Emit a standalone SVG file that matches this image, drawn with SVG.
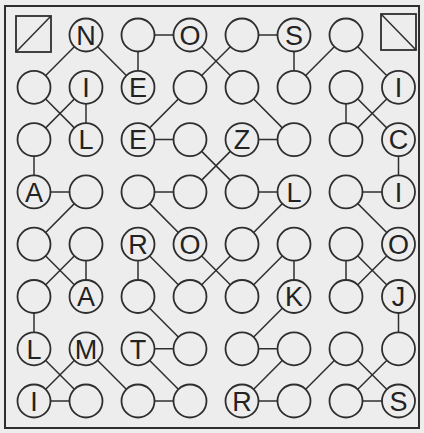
<svg xmlns="http://www.w3.org/2000/svg" width="424" height="433" viewBox="0 0 424 433">
<style>
.bg{fill:#ededed}
.frame{fill:none;stroke:#2e2e2e;stroke-width:2}
.c{fill:#ededed;stroke:#2e2e2e;stroke-width:1.8}
.sq{fill:#ededed;stroke:#2e2e2e;stroke-width:1.8}
.e{stroke:#2e2e2e;stroke-width:1.5}
.t{font-family:"Liberation Sans",Arial,sans-serif;font-size:27px;fill:#222;text-anchor:middle}
</style>
<rect class="bg" x="0" y="0" width="424" height="433"/>
<rect class="frame" x="5" y="6" width="414" height="422"/>
<g id="connectors">
<line class="e" x1="86" y1="35" x2="34" y2="87.3"/>
<line class="e" x1="86" y1="35" x2="138" y2="87.3"/>
<line class="e" x1="138" y1="35" x2="190" y2="35"/>
<line class="e" x1="138" y1="35" x2="138" y2="87.3"/>
<line class="e" x1="190" y1="35" x2="242" y2="87.3"/>
<line class="e" x1="190" y1="87.3" x2="242" y2="35"/>
<line class="e" x1="242" y1="35" x2="294" y2="35"/>
<line class="e" x1="294" y1="35" x2="294" y2="87.3"/>
<line class="e" x1="294" y1="87.3" x2="346" y2="35"/>
<line class="e" x1="346" y1="35" x2="398.5" y2="87.3"/>
<line class="e" x1="346" y1="87.3" x2="346" y2="139.6"/>
<line class="e" x1="346" y1="87.3" x2="398.5" y2="139.6"/>
<line class="e" x1="398.5" y1="87.3" x2="346" y2="139.6"/>
<line class="e" x1="34" y1="87.3" x2="86" y2="139.6"/>
<line class="e" x1="86" y1="87.3" x2="34" y2="139.6"/>
<line class="e" x1="86" y1="87.3" x2="86" y2="139.6"/>
<line class="e" x1="190" y1="87.3" x2="138" y2="139.6"/>
<line class="e" x1="138" y1="139.6" x2="190" y2="139.6"/>
<line class="e" x1="242" y1="87.3" x2="294" y2="139.6"/>
<line class="e" x1="242" y1="139.6" x2="294" y2="139.6"/>
<line class="e" x1="190" y1="139.6" x2="242" y2="191.9"/>
<line class="e" x1="242" y1="139.6" x2="190" y2="191.9"/>
<line class="e" x1="34" y1="139.6" x2="34" y2="191.9"/>
<line class="e" x1="34" y1="191.9" x2="86" y2="191.9"/>
<line class="e" x1="86" y1="191.9" x2="34" y2="244.2"/>
<line class="e" x1="138" y1="191.9" x2="190" y2="191.9"/>
<line class="e" x1="138" y1="191.9" x2="190" y2="244.2"/>
<line class="e" x1="242" y1="191.9" x2="294" y2="191.9"/>
<line class="e" x1="294" y1="191.9" x2="242" y2="244.2"/>
<line class="e" x1="346" y1="191.9" x2="398.5" y2="191.9"/>
<line class="e" x1="398.5" y1="139.6" x2="398.5" y2="191.9"/>
<line class="e" x1="346" y1="191.9" x2="398.5" y2="244.2"/>
<line class="e" x1="346" y1="244.2" x2="346" y2="296.5"/>
<line class="e" x1="346" y1="244.2" x2="398.5" y2="296.5"/>
<line class="e" x1="398.5" y1="244.2" x2="346" y2="296.5"/>
<line class="e" x1="294" y1="244.2" x2="294" y2="296.5"/>
<line class="e" x1="294" y1="244.2" x2="242" y2="296.5"/>
<line class="e" x1="190" y1="244.2" x2="242" y2="296.5"/>
<line class="e" x1="242" y1="244.2" x2="190" y2="296.5"/>
<line class="e" x1="34" y1="244.2" x2="86" y2="296.5"/>
<line class="e" x1="86" y1="244.2" x2="34" y2="296.5"/>
<line class="e" x1="86" y1="244.2" x2="86" y2="296.5"/>
<line class="e" x1="138" y1="244.2" x2="138" y2="296.5"/>
<line class="e" x1="138" y1="244.2" x2="190" y2="296.5"/>
<line class="e" x1="34" y1="296.5" x2="34" y2="348.8"/>
<line class="e" x1="138" y1="296.5" x2="190" y2="348.8"/>
<line class="e" x1="138" y1="348.8" x2="190" y2="348.8"/>
<line class="e" x1="34" y1="348.8" x2="86" y2="401"/>
<line class="e" x1="86" y1="348.8" x2="34" y2="401"/>
<line class="e" x1="34" y1="401" x2="86" y2="401"/>
<line class="e" x1="86" y1="348.8" x2="138" y2="401"/>
<line class="e" x1="138" y1="348.8" x2="190" y2="401"/>
<line class="e" x1="138" y1="401" x2="190" y2="401"/>
<line class="e" x1="294" y1="296.5" x2="242" y2="348.8"/>
<line class="e" x1="242" y1="348.8" x2="294" y2="348.8"/>
<line class="e" x1="294" y1="348.8" x2="242" y2="401"/>
<line class="e" x1="242" y1="401" x2="294" y2="401"/>
<line class="e" x1="294" y1="401" x2="346" y2="348.8"/>
<line class="e" x1="346" y1="348.8" x2="398.5" y2="401"/>
<line class="e" x1="398.5" y1="348.8" x2="346" y2="401"/>
<line class="e" x1="346" y1="401" x2="398.5" y2="401"/>
<line class="e" x1="398.5" y1="296.5" x2="398.5" y2="348.8"/>
</g>
<g id="sq-start"><rect class="sq" x="16" y="16" width="35" height="36"/><line class="e" x1="16" y1="52" x2="51" y2="16"/></g>
<g id="sq-end"><rect class="sq" x="381" y="14" width="35" height="36"/><line class="e" x1="381" y1="14" x2="416" y2="50"/></g>
<g id="n10"><circle class="c" cx="86" cy="35" r="16.5"/><text class="t" x="86" y="44.7">N</text></g>
<g id="n20"><circle class="c" cx="138" cy="35" r="16.5"/></g>
<g id="n30"><circle class="c" cx="190" cy="35" r="16.5"/><text class="t" x="190" y="44.7">O</text></g>
<g id="n40"><circle class="c" cx="242" cy="35" r="16.5"/></g>
<g id="n50"><circle class="c" cx="294" cy="35" r="16.5"/><text class="t" x="294" y="44.7">S</text></g>
<g id="n60"><circle class="c" cx="346" cy="35" r="16.5"/></g>
<g id="n01"><circle class="c" cx="34" cy="87.3" r="16.5"/></g>
<g id="n11"><circle class="c" cx="86" cy="87.3" r="16.5"/><text class="t" x="86" y="97">I</text></g>
<g id="n21"><circle class="c" cx="138" cy="87.3" r="16.5"/><text class="t" x="138" y="97">E</text></g>
<g id="n31"><circle class="c" cx="190" cy="87.3" r="16.5"/></g>
<g id="n41"><circle class="c" cx="242" cy="87.3" r="16.5"/></g>
<g id="n51"><circle class="c" cx="294" cy="87.3" r="16.5"/></g>
<g id="n61"><circle class="c" cx="346" cy="87.3" r="16.5"/></g>
<g id="n71"><circle class="c" cx="398.5" cy="87.3" r="16.5"/><text class="t" x="398.5" y="97">I</text></g>
<g id="n02"><circle class="c" cx="34" cy="139.6" r="16.5"/></g>
<g id="n12"><circle class="c" cx="86" cy="139.6" r="16.5"/><text class="t" x="86" y="149.3">L</text></g>
<g id="n22"><circle class="c" cx="138" cy="139.6" r="16.5"/><text class="t" x="138" y="149.3">E</text></g>
<g id="n32"><circle class="c" cx="190" cy="139.6" r="16.5"/></g>
<g id="n42"><circle class="c" cx="242" cy="139.6" r="16.5"/><text class="t" x="242" y="149.3">Z</text></g>
<g id="n52"><circle class="c" cx="294" cy="139.6" r="16.5"/></g>
<g id="n62"><circle class="c" cx="346" cy="139.6" r="16.5"/></g>
<g id="n72"><circle class="c" cx="398.5" cy="139.6" r="16.5"/><text class="t" x="398.5" y="149.3">C</text></g>
<g id="n03"><circle class="c" cx="34" cy="191.9" r="16.5"/><text class="t" x="34" y="201.6">A</text></g>
<g id="n13"><circle class="c" cx="86" cy="191.9" r="16.5"/></g>
<g id="n23"><circle class="c" cx="138" cy="191.9" r="16.5"/></g>
<g id="n33"><circle class="c" cx="190" cy="191.9" r="16.5"/></g>
<g id="n43"><circle class="c" cx="242" cy="191.9" r="16.5"/></g>
<g id="n53"><circle class="c" cx="294" cy="191.9" r="16.5"/><text class="t" x="294" y="201.6">L</text></g>
<g id="n63"><circle class="c" cx="346" cy="191.9" r="16.5"/></g>
<g id="n73"><circle class="c" cx="398.5" cy="191.9" r="16.5"/><text class="t" x="398.5" y="201.6">I</text></g>
<g id="n04"><circle class="c" cx="34" cy="244.2" r="16.5"/></g>
<g id="n14"><circle class="c" cx="86" cy="244.2" r="16.5"/></g>
<g id="n24"><circle class="c" cx="138" cy="244.2" r="16.5"/><text class="t" x="138" y="253.9">R</text></g>
<g id="n34"><circle class="c" cx="190" cy="244.2" r="16.5"/><text class="t" x="190" y="253.9">O</text></g>
<g id="n44"><circle class="c" cx="242" cy="244.2" r="16.5"/></g>
<g id="n54"><circle class="c" cx="294" cy="244.2" r="16.5"/></g>
<g id="n64"><circle class="c" cx="346" cy="244.2" r="16.5"/></g>
<g id="n74"><circle class="c" cx="398.5" cy="244.2" r="16.5"/><text class="t" x="398.5" y="253.9">O</text></g>
<g id="n05"><circle class="c" cx="34" cy="296.5" r="16.5"/></g>
<g id="n15"><circle class="c" cx="86" cy="296.5" r="16.5"/><text class="t" x="86" y="306.2">A</text></g>
<g id="n25"><circle class="c" cx="138" cy="296.5" r="16.5"/></g>
<g id="n35"><circle class="c" cx="190" cy="296.5" r="16.5"/></g>
<g id="n45"><circle class="c" cx="242" cy="296.5" r="16.5"/></g>
<g id="n55"><circle class="c" cx="294" cy="296.5" r="16.5"/><text class="t" x="294" y="306.2">K</text></g>
<g id="n65"><circle class="c" cx="346" cy="296.5" r="16.5"/></g>
<g id="n75"><circle class="c" cx="398.5" cy="296.5" r="16.5"/><text class="t" x="398.5" y="306.2">J</text></g>
<g id="n06"><circle class="c" cx="34" cy="348.8" r="16.5"/><text class="t" x="34" y="358.5">L</text></g>
<g id="n16"><circle class="c" cx="86" cy="348.8" r="16.5"/><text class="t" x="86" y="358.5">M</text></g>
<g id="n26"><circle class="c" cx="138" cy="348.8" r="16.5"/><text class="t" x="138" y="358.5">T</text></g>
<g id="n36"><circle class="c" cx="190" cy="348.8" r="16.5"/></g>
<g id="n46"><circle class="c" cx="242" cy="348.8" r="16.5"/></g>
<g id="n56"><circle class="c" cx="294" cy="348.8" r="16.5"/></g>
<g id="n66"><circle class="c" cx="346" cy="348.8" r="16.5"/></g>
<g id="n76"><circle class="c" cx="398.5" cy="348.8" r="16.5"/></g>
<g id="n07"><circle class="c" cx="34" cy="401" r="16.5"/><text class="t" x="34" y="410.7">I</text></g>
<g id="n17"><circle class="c" cx="86" cy="401" r="16.5"/></g>
<g id="n27"><circle class="c" cx="138" cy="401" r="16.5"/></g>
<g id="n37"><circle class="c" cx="190" cy="401" r="16.5"/></g>
<g id="n47"><circle class="c" cx="242" cy="401" r="16.5"/><text class="t" x="242" y="410.7">R</text></g>
<g id="n57"><circle class="c" cx="294" cy="401" r="16.5"/></g>
<g id="n67"><circle class="c" cx="346" cy="401" r="16.5"/></g>
<g id="n77"><circle class="c" cx="398.5" cy="401" r="16.5"/><text class="t" x="398.5" y="410.7">S</text></g>
</svg>
